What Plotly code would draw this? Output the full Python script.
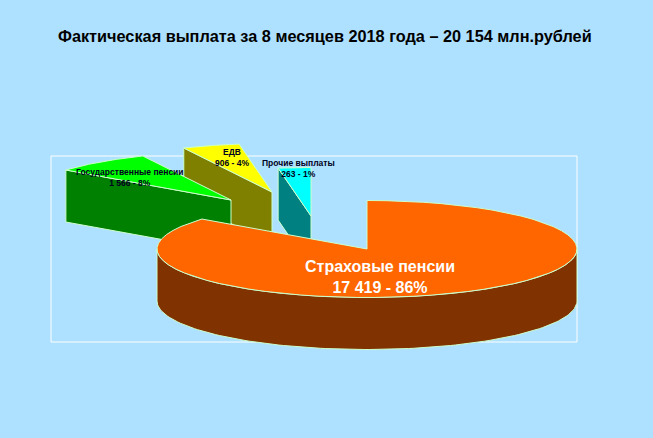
import numpy as np
import plotly.graph_objects as go

# Chart data
title_text = "Фактическая выплата за 8 месяцев 2018 года – 20 154 млн.рублей"
categories = ["Страховые пенсии", "Государственные пенсии", "ЕДВ", "Прочие выплаты"]
amounts = ["17 419", "1 566", "906", "263"]
percents = ["86%", "8%", "4%", "1%"]
# share of the circle each slice takes as drawn, in percent
drawn_share = [85.6, 7.5, 4.4, 2.5]

top_colors = ["#FF6600", "#00FF00", "#FFFF00", "#00FFFF"]
side_colors = ["#803300", "#008000", "#808000", "#008080"]
edge_color = "#CCFFCC"
bg_color = "#AEE0FF"

# Pie projection, in page pixels
W, H = 653, 438
CX, CY = 367, 249
RX, RY = 210, 48.5
DEPTH = 52
# how far each slice is pulled out of the pie
explode_x = [0, -136, -95, -56]
explode_y = [0, -49, -57, -33]

# label placement
label_x = [380, 130, 232, 298]
label_y = [276.5, 177, 157, 168.5]
label_size = [16, 8.5, 8.5, 8.5]
label_color = ["white", "#000020", "#000020", "#000020"]


def rim(angles, cx, cy):
    # clockwise from twelve o'clock
    rad = np.radians(angles)
    return cx + RX * np.sin(rad), cy - RY * np.cos(rad)


fig = go.Figure()


def add_poly(x, y, color):
    fig.add_trace(go.Scatter(
        x=list(x) + [x[0]],
        y=list(y) + [y[0]],
        mode="lines",
        fill="toself",
        fillcolor=color,
        line=dict(color=edge_color, width=1),
        showlegend=False,
        hoverinfo="skip",
    ))


edges = np.concatenate([[0], np.cumsum(drawn_share)]) * 3.6

# Back to front: the green slice covers the olive one, the big one covers all
for i in [3, 2, 1, 0]:
    cx = CX + explode_x[i]
    cy = CY + explode_y[i]
    start, end = edges[i], edges[i + 1]
    arc = np.linspace(start, end, 60)
    ax, ay = rim(arc, cx, cy)

    if i == 0:
        # round front wall
        front = np.linspace(90, 270, 120)
        fx, fy = rim(front, cx, cy)
        add_poly(np.concatenate([fx, fx[::-1]]),
                 np.concatenate([fy, fy[::-1] + DEPTH]), side_colors[i])
    else:
        # cut face looking at the viewer
        sx, sy = rim(np.array([start]), cx, cy)
        add_poly([sx[0], cx, cx, sx[0]],
                 [sy[0], cy, cy + DEPTH, sy[0] + DEPTH], side_colors[i])

    add_poly(np.concatenate([[cx], ax]), np.concatenate([[cy], ay]), top_colors[i])

for i in range(len(categories)):
    fig.add_annotation(
        x=label_x[i], y=label_y[i],
        text="<b>" + categories[i] + "<br>" + amounts[i] + " - " + percents[i] + "</b>",
        showarrow=False,
        font=dict(family="Liberation Sans", size=label_size[i], color=label_color[i]),
    )

fig.update_layout(
    width=W,
    height=H,
    margin=dict(l=0, r=0, t=0, b=0),
    paper_bgcolor=bg_color,
    plot_bgcolor=bg_color,
    showlegend=False,
    xaxis=dict(range=[0, W], visible=False, fixedrange=True),
    yaxis=dict(range=[H, 0], visible=False, fixedrange=True),
    # white frame of the plot area
    shapes=[dict(type="rect", xref="x", yref="y", x0=51, y0=156, x1=577, y1=342,
                 line=dict(color="white", width=1), layer="below")],
    annotations=list(fig.layout.annotations) + [dict(
        x=325, y=36, xref="x", yref="y",
        text="<b>" + title_text + "</b>",
        showarrow=False,
        font=dict(family="Liberation Sans", size=16.3, color="black"),
    )],
)

# the page's default body margin would shift the chart by 8 px
fig.write_html("out.html", post_script="document.body.style.margin='0';", config=dict(displayModeBar=False))
